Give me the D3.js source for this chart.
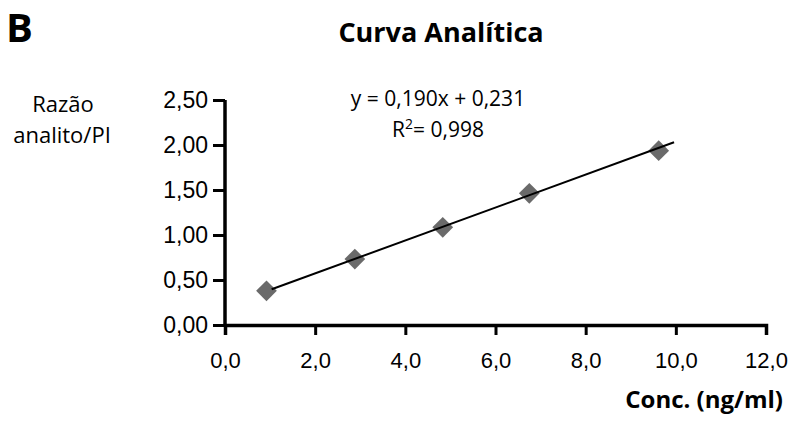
<!DOCTYPE html>
<html>
<head>
<meta charset="utf-8">
<script src="https://cdn.jsdelivr.net/npm/d3@7"></script>
<style>
  body { margin: 0; background: #fff; }
  .tick text { font-family: "Liberation Sans", Arial, sans-serif; }
  .lbl { font-family: "Open Sans", Lato, sans-serif; fill: #000; }
</style>
</head>
<body>
<svg id="chart" width="789" height="421"></svg>
<script>
// data
const conc = [0.92, 2.88, 4.83, 6.75, 9.62];
const ratio = [0.38, 0.733, 1.085, 1.463, 1.937];
// fitted line ends as drawn in the picture
const fitX = [1.035, 9.96];
const fitY = [0.397, 2.03];
const xTicks = [0, 2, 4, 6, 8, 10, 12];
const yTicks = [0, 0.5, 1, 1.5, 2, 2.5];
const eqText = "y = 0,190x + 0,231";
const r2Value = "0,998";

const locale = d3.formatLocale({ decimal: ",", thousands: ".", grouping: [3], currency: ["", ""] });

const svg = d3.select("#chart");

const x = d3.scaleLinear().domain([0, 12]).range([225, 766]);
const y = d3.scaleLinear().domain([0, 2.5]).range([325, 100]);

// axes
const gx = svg.append("g")
  .attr("transform", `translate(0,${y(0)})`)
  .call(d3.axisBottom(x)
    .tickValues(xTicks)
    .tickFormat(locale.format(".1f"))
    .tickSizeOuter(0)
    .tickSize(10)
    .tickPadding(17));

const gy = svg.append("g")
  .attr("transform", `translate(${x(0)},0)`)
  .call(d3.axisLeft(y)
    .tickValues(yTicks)
    .tickFormat(locale.format(".2f"))
    .tickSizeOuter(0)
    .tickSize(12)
    .tickPadding(5));

[gx, gy].forEach(g => {
  g.select(".domain").attr("stroke", "#000").attr("stroke-width", 3.5);
  g.selectAll(".tick line").attr("stroke", "#000").attr("stroke-width", 3);
  g.selectAll(".tick text").attr("fill", "#000").attr("font-size", 22);
});
gy.selectAll(".tick text").attr("font-size", 23);
// y axis reaches just below the x axis
gy.select(".domain").attr("d", `M0,${y(2.5)}V${y(0) + 2}`);

// points
const sym = d3.symbol().type(d3.symbolSquare).size(215);
svg.append("g")
  .selectAll("path")
  .data(conc.map((c, i) => [c, ratio[i]]))
  .join("path")
    .attr("d", sym)
    .attr("transform", d => `translate(${x(d[0])},${y(d[1])}) rotate(45)`)
    .attr("fill", "#6a6a6a");

// fit line
svg.append("line")
  .attr("x1", x(fitX[0])).attr("y1", y(fitY[0]))
  .attr("x2", x(fitX[1])).attr("y2", y(fitY[1]))
  .attr("stroke", "#000")
  .attr("stroke-width", 2);

// equation
svg.append("text")
  .attr("class", "lbl")
  .attr("x", 438).attr("y", 106)
  .attr("text-anchor", "middle")
  .attr("font-size", 21)
  .text(eqText);

const r2 = svg.append("text")
  .attr("class", "lbl")
  .attr("x", 438).attr("y", 137)
  .attr("text-anchor", "middle")
  .attr("font-size", 21);
r2.append("tspan").text("R");
r2.append("tspan").attr("dy", -8).attr("font-size", 14).text("2");
r2.append("tspan").attr("dy", 8).text("= " + r2Value);

// titles
svg.append("text")
  .attr("class", "lbl")
  .attr("x", 6).attr("y", 42)
  .attr("font-size", 40)
  .attr("font-weight", "bold")
  .text("B");

svg.append("text")
  .attr("class", "lbl")
  .attr("x", 441).attr("y", 42)
  .attr("text-anchor", "middle")
  .attr("font-size", 27)
  .attr("font-weight", "bold")
  .text("Curva Analítica");

svg.append("text")
  .attr("class", "lbl")
  .attr("x", 63).attr("y", 112)
  .attr("text-anchor", "middle")
  .attr("font-size", 22)
  .text("Razão");

svg.append("text")
  .attr("class", "lbl")
  .attr("x", 62).attr("y", 143)
  .attr("text-anchor", "middle")
  .attr("font-size", 22)
  .text("analito/PI");

svg.append("text")
  .attr("class", "lbl")
  .attr("x", 783).attr("y", 408)
  .attr("text-anchor", "end")
  .attr("font-size", 24)
  .attr("font-weight", "bold")
  .text("Conc. (ng/ml)");
</script>
</body>
</html>
